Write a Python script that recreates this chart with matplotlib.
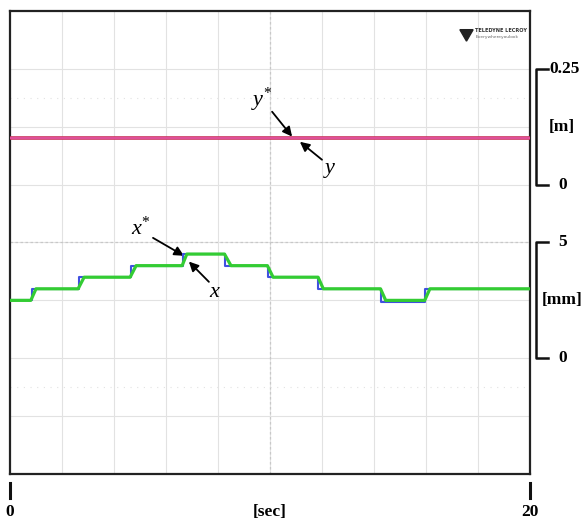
import numpy as np
import matplotlib
matplotlib.use("Agg")
import matplotlib.pyplot as plt
import matplotlib.transforms as mtransforms

plt.rcParams['font.family'] = ['Liberation Serif', 'DejaVu Serif']
plt.rcParams['mathtext.fontset'] = 'custom'
plt.rcParams['mathtext.it'] = 'Liberation Serif:italic'
plt.rcParams['mathtext.rm'] = 'Liberation Serif'

t_end = 20.0
y_ref_t = [0.0, 20.0]
y_ref_v = [0.10, 0.10]           # y*, м
y_act_v = [0.101, 0.101]         # y, м

# ступени x* (мм)
x_step_t = [0.0, 0.83, 2.65, 4.65, 6.65, 8.27, 9.92, 11.85, 14.26, 15.96, 20.0]
x_step_v = [2.5, 3.0, 3.5, 4.0, 4.5, 4.0, 3.5, 3.0, 2.45, 3.0, 3.0]

# x (фактическое) - с небольшим запаздыванием на фронтах
x_act_t = [0.0, 0.8, 1.0, 2.62, 2.85, 4.62, 4.85, 6.62, 6.8, 8.25, 8.5,
           9.9, 10.12, 11.85, 12.05, 14.25, 14.45, 15.95, 16.15, 20.0]
x_act_v = [2.5, 2.5, 3.0, 3.0, 3.5, 3.5, 4.0, 4.0, 4.5, 4.5, 4.0,
           4.0, 3.5, 3.5, 3.0, 3.0, 2.5, 2.5, 3.0, 3.0]

fig = plt.figure(figsize=(5.87, 5.21), dpi=100)
ax = fig.add_axes([10 / 587, 47 / 521, 520 / 587, 463 / 521])
ax.set_xlim(0, t_end)
ax.set_ylim(0, 8)

# сетка осциллографа
for xv in np.arange(2, 20, 2):
    ax.axvline(xv, color='#e2e2e2', lw=0.8, zorder=0)
for yv in range(1, 8):
    ax.axhline(yv, color='#e2e2e2', lw=0.8, zorder=0)
ax.axvline(10, color='#c8c8c8', lw=0.9, ls=(0, (2, 2)), zorder=0)
ax.axhline(4, color='#c8c8c8', lw=0.9, ls=(0, (2, 2)), zorder=0)
for yv in (1.5, 6.5):
    ax.axhline(yv, color='#e2e2e2', lw=0.8, ls=(0, (1, 5)), zorder=0)
ax.set_xticks([])
ax.set_yticks([])
for s in ax.spines.values():
    s.set_color('#222222')
    s.set_linewidth(1.6)

# ось [m]: 0 на 5-м делении, 0.25 на 7-м
ax_m = ax.twinx()
ax_m.set_ylim(-0.625, 0.375)
ax_m.set_yticks([])
ax_m.plot(y_ref_t, y_ref_v, color='#c8305a', lw=2.6, zorder=3)
ax_m.plot(y_ref_t, y_act_v, color='#e0509a', lw=1.4, zorder=4)

# ось [mm]: 0 на 2-м делении, 5 на 4-м
ax_mm = ax.twinx()
ax_mm.set_ylim(-5, 15)
ax_mm.set_yticks([])
ax_mm.step(x_step_t, x_step_v, where='post', color='#4050e0', lw=1.5, zorder=3)
ax_mm.plot(x_act_t, x_act_v, color='#33cc33', lw=2.3, zorder=4)
for a in (ax_m, ax_mm):
    for s in a.spines.values():
        s.set_visible(False)

# скобки справа
def bracket(axis, lo, hi, lo_lbl, hi_lbl, unit, hi_dx=0.0):
    tr = mtransforms.blended_transform_factory(axis.transAxes, axis.transData)
    axis.plot([1.035, 1.012, 1.012, 1.035], [hi, hi, lo, lo], color='#111111',
              lw=1.8, transform=tr, clip_on=False)
    axis.text(1.062 + hi_dx, hi, hi_lbl, transform=tr, ha='center', va='center',
              fontsize=12.5, fontweight='bold')
    axis.text(1.062, lo, lo_lbl, transform=tr, ha='center', va='center',
              fontsize=12.5, fontweight='bold')
    axis.text(1.062, (lo + hi) / 2, unit, transform=tr, ha='center', va='center',
              fontsize=12.5, fontweight='bold')

bracket(ax_m, 0.0, 0.25, '0', '0.25', '[m]', hi_dx=0.005)
bracket(ax_mm, 0.0, 5.0, '0', '5', '[mm]')

# подписи оси времени
trx = mtransforms.blended_transform_factory(ax.transData, ax.transAxes)
for xv, lbl in ((0, '0'), (20, '20')):
    ax.plot([xv, xv], [-0.019, -0.052], color='#111111', lw=2.2,
            transform=trx, clip_on=False)
    ax.text(xv, -0.082, lbl, transform=trx, ha='center', va='center',
            fontsize=12.5, fontweight='bold')
ax.text(10, -0.082, '[sec]', transform=trx, ha='center', va='center',
        fontsize=12.5, fontweight='bold')

# стрелки и обозначения
arrow = dict(arrowstyle='-|>', color='black', lw=1.3, mutation_scale=14,
             shrinkA=0, shrinkB=0)
ax.annotate('', xy=(10.85, 5.83), xytext=(10.08, 6.26), arrowprops=arrow)
ax.text(9.69, 6.47, r'$y^{*}$', fontsize=16, ha='center', va='center')
ax.annotate('', xy=(11.15, 5.74), xytext=(12.0, 5.43), arrowprops=arrow)
ax.text(12.31, 5.24, r'$y$', fontsize=16, ha='center', va='center')
ax.annotate('', xy=(6.69, 3.77), xytext=(5.5, 4.08), arrowprops=arrow)
ax.text(5.05, 4.24, r'$x^{*}$', fontsize=16, ha='center', va='center')
ax.annotate('', xy=(6.88, 3.67), xytext=(7.65, 3.32), arrowprops=arrow)
ax.text(7.9, 3.13, r'$x$', fontsize=16, ha='center', va='center')

# логотип
ax.text(0.895, 0.958, 'TELEDYNE LECROY', transform=ax.transAxes, fontsize=3.6,
        family='DejaVu Sans', fontweight='bold', color='#333333', ha='left', va='center')
ax.text(0.895, 0.944, 'Everywhereyoulook', transform=ax.transAxes, fontsize=3.2,
        family='DejaVu Sans', color='#666666', ha='left', va='center')
ax.plot([0.877], [0.953], marker=(3, 0, 180), markersize=11, color='#222222',
        transform=ax.transAxes)

fig.savefig('out.png', dpi=100)
